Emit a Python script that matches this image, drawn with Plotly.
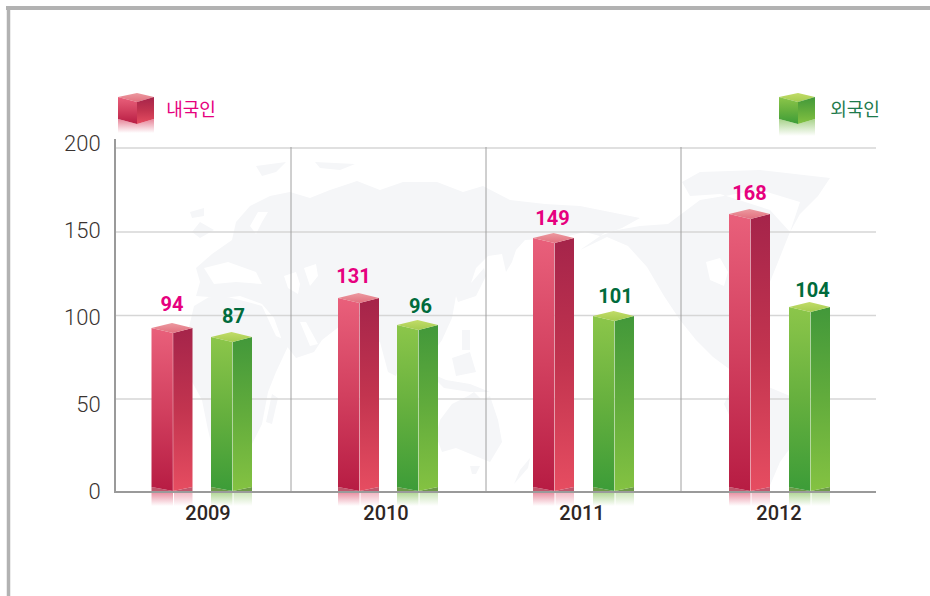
import plotly.graph_objects as go

# ---- data ----
categories = ["2009", "2010", "2011", "2012"]
series_names = ["내국인", "외국인"]
local_labels = [94, 131, 149, 168]     # printed labels
foreign_labels = [87, 96, 101, 104]
local_drawn = [93.7, 110.9, 145.4, 159.2]   # bar heights as drawn against the axis
foreign_drawn = [88.5, 95.4, 100.6, 105.7]
y_ticks = [0, 50, 100, 150, 200]
grid_levels = [52.9, 100.8, 148.9, 197.1]   # gridlines as drawn

# ---- layout constants (pixels) ----
W, H = 930, 596
PL, PR, PT, PB = 116, 876, 139, 491
PX_PER_UNIT = 1.74
YMAX = (PB - PT) / PX_PER_UNIT
local_x = [151.5, 338, 533, 729]
foreign_x = [211, 397, 593, 789]
cat_x = [208, 386, 582, 779]
sep_x = [291, 486, 681]
FACE_L, FACE_R = 21.5, 19.5
local_dx = [0, -5, -1, 0]
foreign_dx = [2, 3, 2, 3]
local_lift = [17, 15, 13, 14]
foreign_lift = [14, 12, 13, 10]

RED = dict(
    left=[[0, "#b71c43"], [0.5, "#d2405f"], [1, "#e9607b"]],
    right=[[0, "#e64d61"], [0.5, "#c2344f"], [1, "#a5244a"]],
    top=[[0, "#e2707f"], [1, "#ec9aa0"]],
    wedge="#c0566c", refl=(214, 50, 84), text="#e6007e",
)
GREEN = dict(
    left=[[0, "#3c9c38"], [0.5, "#66b03e"], [1, "#8cc64a"]],
    right=[[0, "#84c242"], [0.5, "#62ac3c"], [1, "#42983a"]],
    top=[[0, "#a4cc50"], [1, "#c2dc68"]],
    wedge="#6d9a48", refl=(110, 180, 60), text="#006b3c",
)

fig = go.Figure()


def poly(xs, ys, xa, ya, colorscale=None, color=None):
    kw = dict(x=xs + [xs[0]], y=ys + [ys[0]], xaxis=xa, yaxis=ya, mode="lines",
              fill="toself", line=dict(width=0), hoverinfo="skip", showlegend=False)
    if colorscale:
        kw["fillgradient"] = dict(type="vertical", colorscale=colorscale)
        kw["fillcolor"] = "rgba(0,0,0,0)"
    else:
        kw["fillcolor"] = color
    fig.add_trace(go.Scatter(**kw))


# ---- world map backdrop (rough outline, base pixel axes) ----
LAND = [
    # Eurasia
    [(196,296),(200,282),(196,268),(212,254),(232,240),(236,222),(250,206),(270,196),(290,192),(310,198),(330,190),
     (357,181),(380,190),(403,182),(437,182),(463,192),(483,186),(510,200),(545,204),(580,206),(610,212),(640,218),
     (622,228),(600,236),(585,232),(560,238),(525,240),(516,250),(512,262),(506,272),(502,254),(488,256),(476,268),(470,286),(456,296),
     (452,318),(442,340),(428,360),(436,372),(424,378),(414,352),(404,352),(396,376),(388,372),(380,342),(358,336),
     (340,326),(322,340),(314,352),(296,358),(282,340),(274,318),(262,304),(240,296),(222,298)],
    # Africa
    [(194,306),(214,294),(240,300),(262,306),(276,336),(290,342),(276,372),(268,392),(262,424),(248,452),(232,478),
     (218,470),(208,430),(202,400),(190,378),(186,340)],
    # Madagascar
    [(272,394),(278,398),(272,424),(266,422)],
    # Great Britain / Iceland
    [(200,222),(214,230),(200,238),(192,232)], [(190,212),(204,208),(204,216),(192,218)],
    # Arctic islands
    [(256,166),(286,162),(276,172),(262,176)], [(315,162),(355,164),(340,170),(320,168)],
    # Japan
    [(472,282),(484,268),(486,276),(476,296),(458,302),(456,296)],
    # Indonesia
    [(428,372),(446,380),(470,384),(490,392),(470,392),(444,388)], [(452,358),(470,352),(476,372),(456,376)],
    [(462,330),(470,330),(470,350),(462,350)],
    # Australia
    [(440,420),(452,404),(468,396),(474,392),(482,400),(490,396),(498,420),(502,442),(490,462),(470,454),(456,448),(442,452),(436,436)],
    [(470,466),(480,466),(476,474),(472,474)],
    # New Zealand
    [(520,470),(530,458),(528,468),(514,484)],
    # North America
    [(580,250),(607,237),(628,246),(647,267),(664,296),(680,320),(696,340),(713,357),(736,374),(744,372),(736,352),(752,342),
     (744,316),(760,300),(770,282),(778,262),(790,232),(800,202),(760,190),(700,200),(668,224),(640,226),(606,232)],
    # Greenland & Arctic Canada
    [(682,182),(700,172),(760,170),(830,178),(818,196),(800,214),(790,232),(770,210),(720,194),(690,196)],
    # South America
    [(736,380),(752,380),(790,396),(804,416),(796,440),(780,462),(768,490),(760,490),(750,458),(736,430),(724,404)],
]
WATER = [
    [(204,268),(228,262),(256,272),(262,284),(236,282),(214,284)],
    [(284,276),(296,272),(300,284),(298,294),(288,288)],
    [(304,268),(316,264),(318,276),(310,286)],
    [(250,226),(258,212),(268,212),(262,222),(256,234)],
    [(300,322),(306,322),(318,344),(310,346)],
    [(706,262),(720,258),(728,272),(724,286),(710,280)],
]


def flat(parts):
    xs, ys = [], []
    for p in parts:
        xs += [c[0] for c in p] + [p[0][0], None]
        ys += [c[1] for c in p] + [p[0][1], None]
    return xs, ys


mx, my = flat(LAND)
fig.add_trace(go.Scatter(x=mx, y=my, xaxis="x", yaxis="y", mode="lines", fill="toself",
                         fillcolor="#f5f6f8", line=dict(width=0), hoverinfo="skip", showlegend=False))
wx, wy = flat(WATER)
fig.add_trace(go.Scatter(x=wx, y=wy, xaxis="x", yaxis="y", mode="lines", fill="toself",
                         fillcolor="#ffffff", line=dict(width=0), hoverinfo="skip", showlegend=False))


def fade(rgb, top, bottom):
    r, g, b = rgb
    return [[0, f"rgba({r},{g},{b},{bottom})"], [1, f"rgba({r},{g},{b},{top})"]]


# floor reflections under each bar (base axes, below the baseline)
for xs, pal in ((local_x, RED), (foreign_x, GREEN)):
    for x0 in xs:
        poly([x0, x0 + FACE_L, x0 + FACE_L, x0], [PB, PB, PB + 15, PB + 15], "x", "y",
             colorscale=fade(pal["refl"], 0.6, 0))
        poly([x0 + FACE_L + 1, x0 + FACE_L + FACE_R, x0 + FACE_L + FACE_R, x0 + FACE_L + 1],
             [PB, PB, PB + 15, PB + 15], "x", "y", colorscale=fade(pal["refl"], 0.4, 0))

# ---- gridlines and separators (main axes) ----
for g in grid_levels:
    fig.add_trace(go.Scatter(x=[PL, PR], y=[g, g], xaxis="x2", yaxis="y2", mode="lines",
                             line=dict(color="#d6d6d6", width=1.5), hoverinfo="skip", showlegend=False))
for s in sep_x:
    fig.add_trace(go.Scatter(x=[s, s], y=[0, (PB - 147) / PX_PER_UNIT], xaxis="x2", yaxis="y2", mode="lines",
                             line=dict(color="#a0a0a0", width=1), hoverinfo="skip", showlegend=False))

# ---- bars ----
U = PX_PER_UNIT


def cube(x0, h, pal):
    xm = x0 + FACE_L
    x1 = xm + FACE_R
    side = 4 / U
    dip = 5 / U
    poly([x0, xm, x1, x1, x0], [side, 0, side, 0, 0], "x2", "y2", color=pal["wedge"])
    poly([x0, xm, xm, x0], [h, h - dip, 0, side], "x2", "y2", colorscale=pal["left"])
    poly([xm, x1, x1, xm], [h - dip, h, side, 0], "x2", "y2", colorscale=pal["right"])
    poly([x0, x0 + FACE_L - 1, x1, xm], [h, h + dip, h, h - dip], "x2", "y2", colorscale=pal["top"])
    fig.add_trace(go.Scatter(x=[xm, xm], y=[h - dip, 0], xaxis="x2", yaxis="y2", mode="lines",
                             line=dict(color="rgba(255,255,255,0.35)", width=1),
                             hoverinfo="skip", showlegend=False))


for xs, vals, pal in ((local_x, local_drawn, RED), (foreign_x, foreign_drawn, GREEN)):
    for x0, h in zip(xs, vals):
        cube(x0, h, pal)

for name, xs, vals, labels, dxs, lifts, pal in (
    (series_names[0], local_x, local_drawn, local_labels, local_dx, local_lift, RED),
    (series_names[1], foreign_x, foreign_drawn, foreign_labels, foreign_dx, foreign_lift, GREEN),
):
    fig.add_trace(go.Scatter(
        x=[x + (FACE_L + FACE_R) / 2 + d for x, d in zip(xs, dxs)],
        y=[h + (5 + l) / U for h, l in zip(vals, lifts)],
        text=[str(v) for v in labels], mode="text", textposition="middle center",
        textfont=dict(family="Roboto", size=20, color=pal["text"], weight="bold"),
        xaxis="x2", yaxis="y2", cliponaxis=False, hoverinfo="skip", showlegend=False, name=name))

# ---- legend cubes (base pixel axes) ----
for x0, xm, x1, pal, rb in ((118, 137, 154, RED, 133), (779, 798, 815, GREEN, 136)):
    poly([x0, xm, x1, xm], [97, 102, 97, 93], "x", "y", colorscale=pal["top"])
    poly([x0, xm, xm, x0], [97, 102, 124, 119], "x", "y", colorscale=pal["left"])
    poly([xm, x1, x1, xm], [102, 97, 119, 124], "x", "y", colorscale=pal["right"])
    poly([x0, xm, x1, x1, x0], [119, 124, 119, rb, rb], "x", "y", colorscale=fade(pal["refl"], 0.6, 0))

fig.add_trace(go.Scatter(x=[191], y=[111], text=[series_names[0]], mode="text", textposition="middle center",
                         textfont=dict(family="Noto Sans CJK KR", size=18, color="#e6007e"),
                         xaxis="x", yaxis="y", hoverinfo="skip", showlegend=False))
fig.add_trace(go.Scatter(x=[855], y=[111], text=[series_names[1]], mode="text", textposition="middle center",
                         textfont=dict(family="Noto Sans CJK KR", size=18, color="#1d7a4c"),
                         xaxis="x", yaxis="y", hoverinfo="skip", showlegend=False))

fig.update_layout(
    width=W, height=H, autosize=False, margin=dict(l=0, r=0, t=0, b=0),
    paper_bgcolor="white", plot_bgcolor="rgba(0,0,0,0)", showlegend=False,
    xaxis=dict(domain=[0, 1], range=[0, W], visible=False, fixedrange=True, automargin=False),
    yaxis=dict(domain=[0, 1], range=[H, 0], visible=False, fixedrange=True, automargin=False),
    xaxis2=dict(domain=[PL / W, PR / W], range=[PL, PR], anchor="y2", showgrid=False, zeroline=False,
                showline=True, linecolor="#9a9a9a", linewidth=2, automargin=False,
                tickmode="array", tickvals=cat_x, ticktext=categories, ticks="",
                tickfont=dict(family="Roboto", size=20, color="#2e2624", weight=500),
                ticklabelstandoff=3, fixedrange=True),
    yaxis2=dict(domain=[1 - PB / H, 1 - PT / H], range=[0, YMAX], anchor="x2", showgrid=False, zeroline=False,
                showline=True, linecolor="#9a9a9a", linewidth=2, automargin=False,
                tickmode="array", tickvals=y_ticks, ticktext=[str(t) for t in y_ticks], ticks="",
                tickfont=dict(family="Roboto", size=22, color="#3a3331", weight=300),
                ticklabelstandoff=9, fixedrange=True),
    shapes=[
        dict(type="line", xref="x", yref="y", x0=6, x1=W, y0=8, y1=8, line=dict(color="#b2b2b2", width=4)),
        dict(type="line", xref="x", yref="y", x0=8.5, x1=8.5, y0=6, y1=H, line=dict(color="#b2b2b2", width=3.5)),
    ],
)

fig.write_html("out.html", config=dict(displayModeBar=False),
               post_script="document.body.style.margin='0';document.body.style.overflow='hidden';window.dispatchEvent(new Event('resize'));")
